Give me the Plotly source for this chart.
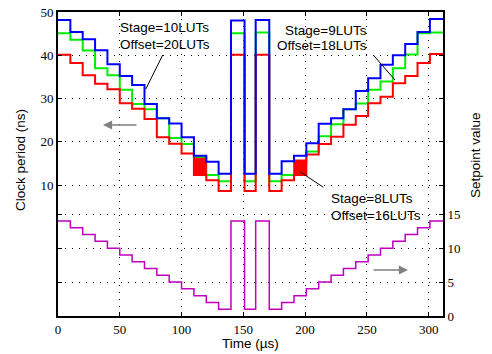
import plotly.graph_objects as go

# ---- data ----
# segment start times (µs); last entry is the end of the record
t_edges = [0, 10, 20, 30, 40, 50, 60, 70, 80, 90, 100, 110, 120, 130, 140,
           151, 160, 171, 181, 191, 201, 211, 221, 231, 241, 251, 261, 271,
           281, 291, 301, 311.6]

setpoint = [14, 13, 12, 11, 10, 9, 8, 7, 6, 5, 4, 3, 2, 1,
            14, 1, 14, 1,
            2, 3, 4, 5, 6, 7, 8, 9, 10, 11, 12, 13, 14]

period_stage10 = [48.3, 45.5, 43.8, 41.3, 38.0, 35.3, 33.2, 28.8, 25.5, 24.3,
                  21.1, 16.8, 15.4, 12.6,
                  48.2, 12.6, 48.3, 12.6,
                  15.5, 16.8, 19.7, 24.2, 25.5, 27.6, 31.8, 34.8, 37.9, 40.1,
                  42.7, 45.5, 48.5]

period_stage9 = [45.2, 43.7, 41.2, 37.1, 35.5, 32.1, 28.8, 27.6, 25.5, 20.9,
                 19.5, 16.5, 12.3, 10.9,
                 45.2, 10.9, 45.4, 10.9,
                 12.3, 15.2, 17.8, 21.3, 24.1, 27.6, 28.9, 32.1, 34.0, 37.1,
                 40.3, 45.2, 45.4]

period_stage8 = [40.2, 38.3, 35.5, 33.5, 32.2, 29.0, 27.7, 25.3, 21.1, 19.6,
                 17.3, 12.3, 11.1, 8.6,
                 40.2, 8.6, 40.2, 8.6,
                 11.1, 12.3, 17.1, 19.5, 21.2, 24.0, 26.0, 29.0, 30.5, 33.6,
                 35.3, 38.3, 40.4]

# oscillating (unlocked) intervals of the 8-LUT configuration
osc_start = [110, 191]
osc_end = [120, 201]
osc_low = [12.3, 12.3]
osc_high = [16.2, 15.8]

x_ticks = [0, 50, 100, 150, 200, 250, 300]
y_ticks = [10, 20, 30, 40, 50]
y2_ticks = [0, 5, 10, 15]


def steps(vals):
    return list(vals) + [vals[-1]]


fig = go.Figure()

fig.add_trace(go.Scatter(x=t_edges, y=steps(setpoint), mode="lines",
                         line=dict(color="#BF00BF", width=1.5, shape="hv"),
                         yaxis="y2", showlegend=False))

fig.add_trace(go.Scatter(x=t_edges, y=steps(period_stage9), mode="lines",
                         line=dict(color="#00EE00", width=2, shape="hv"),
                         showlegend=False))

fig.add_trace(go.Scatter(x=t_edges, y=steps(period_stage8), mode="lines",
                         line=dict(color="#FF0000", width=2, shape="hv"),
                         showlegend=False))

for x0, x1, lo, hi in zip(osc_start, osc_end, osc_low, osc_high):
    fig.add_trace(go.Scatter(x=[x0, x1, x1, x0, x0], y=[lo, lo, hi, hi, lo],
                             mode="lines", fill="toself", fillcolor="#FF0000",
                             line=dict(color="#FF0000", width=1),
                             showlegend=False))

fig.add_trace(go.Scatter(x=t_edges, y=steps(period_stage10), mode="lines",
                         line=dict(color="#0000FF", width=2, shape="hv"),
                         showlegend=False))

grid_dash = "1px,6px"
serif = "Liberation Serif"
sans = "Liberation Sans"

common = dict(ticks="inside", ticklen=4, tickcolor="black", showline=True,
              linewidth=2, linecolor="black", mirror="ticks", showgrid=True,
              gridcolor="black", gridwidth=1, griddash=grid_dash,
              zeroline=False, automargin=False,
              tickfont=dict(family=serif, size=13, color="black"))

fig.update_layout(
    width=492, height=354,
    margin=dict(l=58, r=49, t=12, b=38, autoexpand=False),
    plot_bgcolor="white", paper_bgcolor="white",
    xaxis=dict(range=[0, 311.6], tickvals=x_ticks, **common),
    yaxis=dict(range=[-20.4, 50.15], tickvals=y_ticks, **common),
    yaxis2=dict(range=[0, 44.8], tickvals=y2_ticks, overlaying="y",
                side="right", **common),
)


def px2paper(px, py):
    return (px - 58) / 385.0, (316 - py) / 304.0


anns = []
fs = 13.5
for text, px, py, anchor in [
    ("Stage=10LUTs", 118, 27.5, "left"),
    ("Offset=20LUTs", 118, 44, "left"),
    ("Stage=9LUTs", 369, 30.5, "right"),
    ("Offset=18LUTs", 369, 45.5, "right"),
    ("Stage=8LUTs", 329, 199, "left"),
    ("Offset=16LUTs", 329, 215, "left"),
]:
    x, y = px2paper(px, py)
    anns.append(dict(text=text, x=x, y=y, xref="paper", yref="paper",
                     xanchor=anchor, yanchor="middle", showarrow=False,
                     font=dict(family=sans, size=fs, color="black")))

# axis titles
x, y = px2paper(20, 160)
anns.append(dict(text="Clock period (ns)", x=x, y=y, xref="paper", yref="paper",
                 textangle=-90, showarrow=False, xanchor="center", yanchor="middle",
                 font=dict(family=sans, size=fs, color="black")))
x, y = px2paper(475, 155)
anns.append(dict(text="Setpoint value", x=x, y=y, xref="paper", yref="paper",
                 textangle=-90, showarrow=False, xanchor="center", yanchor="middle",
                 font=dict(family=sans, size=fs, color="black")))
x, y = px2paper(250, 343)
anns.append(dict(text="Time (µs)", x=x, y=y, xref="paper", yref="paper",
                 showarrow=False, xanchor="center", yanchor="middle",
                 font=dict(family=sans, size=fs, color="black")))

# gray direction arrows
x, y = px2paper(103, 125)
anns.append(dict(text="", x=x, y=y, xref="paper", yref="paper", ax=35, ay=0,
                 showarrow=True, arrowhead=2, arrowsize=1.4, arrowwidth=1.3,
                 arrowcolor="#808080", standoff=0))
x, y = px2paper(408, 270)
anns.append(dict(text="", x=x, y=y, xref="paper", yref="paper", ax=-36, ay=0,
                 showarrow=True, arrowhead=2, arrowsize=1.4, arrowwidth=1.3,
                 arrowcolor="#808080", standoff=0))

fig.update_layout(annotations=anns)

# leader lines from the labels to the curves
shapes = []
for (pa, pb) in [((162.7, 55), (145.7, 89.3)),
                 ((373.3, 55), (395, 80)),
                 ((300, 171.7), (323.3, 187.3))]:
    x0, y0 = px2paper(*pa)
    x1, y1 = px2paper(*pb)
    shapes.append(dict(type="line", xref="paper", yref="paper",
                       x0=x0, y0=y0, x1=x1, y1=y1,
                       line=dict(color="black", width=1)))
fig.update_layout(shapes=shapes)

fig.write_html(
    "out.html",
    config={"displayModeBar": False},
    post_script="document.body.style.margin='0';"
                "document.body.style.overflow='hidden';",
)
